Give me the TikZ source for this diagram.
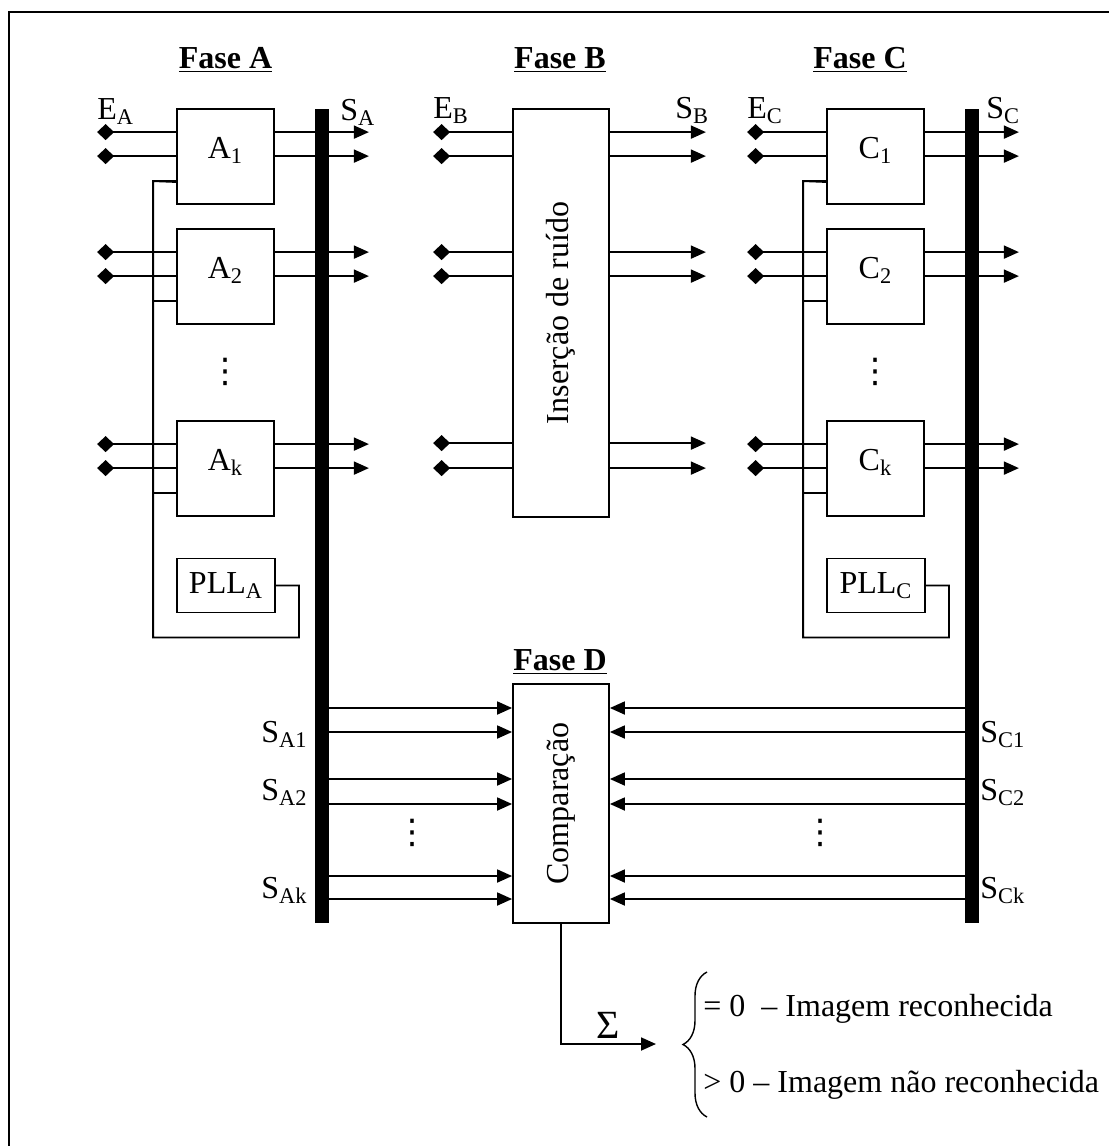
\documentclass[tikz,border=0pt]{standalone}
\usepackage{fontspec}
\setmainfont{Liberation Serif}
\newfontfamily\dvfont{DejaVu Sans}
\usepackage{tikz}
\usetikzlibrary{arrows.meta, positioning, decorations.pathreplacing, calc}
\tikzset{
  blk/.style={draw=black, line width=0.9pt, minimum width=48.5pt,
              minimum height=47.5pt, inner sep=0pt},
  pll/.style={draw=black, line width=0.9pt, minimum width=49pt,
              minimum height=27pt, inner sep=0pt, font=\fontsize{16}{19}\selectfont},
  tall/.style={draw=black, line width=0.9pt, minimum width=48pt, inner sep=0pt},
  bus/.style={fill=black, minimum width=7pt, minimum height=407pt, inner sep=0pt},
  lbl/.style={inner sep=0pt, font=\fontsize{16}{19}\selectfont},
  vdot/.style={inner sep=0pt, font=\dvfont\fontsize{17}{20}\selectfont},
  rot/.style={rotate=90, inner sep=0pt, font=\fontsize{16}{19}\selectfont},
  fase/.style={inner sep=0pt, font=\fontsize{16}{19}\selectfont\bfseries},
  res/.style={inner sep=0pt, font=\fontsize{16}{19}\selectfont},
  wire/.style={line width=0.9pt},
  inp/.style={wire, -{Diamond[length=8.5pt,width=8pt]}},
  outp/.style={wire, -{Triangle[length=7.5pt,width=6.5pt]}},
}
\begin{document}
\begin{tikzpicture}[x=0.5pt, y=-0.5pt]
    \useasboundingbox (0,0) rectangle (1109,1146);
    \draw[wire] (9,1146) -- (9,12) -- (1109,12);
    \foreach \n/\x/\t in {fA/225.5/A, fB/560/B, fC/860/C}{
      \node[fase, anchor=base] (\n) at (\x,68) {\underline{Fase \t}};
    }
    \node[fase, anchor=base] (fD) at (560,670) {\underline{Fase D}};
    \foreach \p/\x in {A/0,C/650}{
      \node[blk, label={[lbl,yshift=3pt]center:\p\textsubscript{1}}] (\p1) at (225.5+\x,156.5) {};
      \node[blk, label={[lbl,yshift=3pt]center:\p\textsubscript{2}}] (\p2) at (225.5+\x,276.5) {};
      \node[blk, label={[lbl,yshift=3pt]center:\p\textsubscript{k}}] (\p k) at (225.5+\x,468.5) {};
      \node[pll] (PLL\p) at (226+\x,585.5) {PLL\textsubscript{\p}};
      \node[vdot] (dots\p) at (225+\x,372) {⋮};
      \node[bus] (bus\p) at (322+\x,516) {};
      \draw[wire] (PLL\p.east) -- ++(23,0) -- ++(0,52)
        -| ([xshift=-11.5pt,yshift=-36.5pt]\p1.north west) -- (\p1.west |- 0,182);
    }
    \foreach \b in {A1,A2,Ak,C1,C2,Ck}{
      \foreach \d in {12,24}{
        \draw[inp] ([yshift=-\d pt]\b.north west) -- ++(-79,0);
        \draw[outp] ([yshift=-\d pt]\b.north east) -- ++(94,0);
      }
      \draw[wire] ([yshift=-36.5pt]\b.north west) -- ++(-23,0);
    }
    \node[tall, minimum height=204pt, label={[rot]center:Inserção de ruído}] (B) at (561,313) {};
    \foreach \d in {12,24,72,84,167.5,180}{
      \draw[inp] ([yshift=-\d pt]B.north west) -- ++(-79,0);
      \draw[outp] ([yshift=-\d pt]B.north east) -- ++(96,0);
    }
    \node[lbl, anchor=base west] (EA) at (97,119) {E\textsubscript{A}};
    \node[lbl, anchor=base west] (SA) at (340,120) {S\textsubscript{A}};
    \node[lbl, anchor=base west] (EB) at (433,118) {E\textsubscript{B}};
    \node[lbl, anchor=base west] (SB) at (675,118) {S\textsubscript{B}};
    \node[lbl, anchor=base west] (EC) at (747,118) {E\textsubscript{C}};
    \node[lbl, anchor=base west] (SC) at (986,118) {S\textsubscript{C}};
    \node[tall, minimum height=119.5pt, label={[rot]center:Comparação}] (Comp) at (561,803.5) {};
    \foreach \y in {708,732,779,804,876,899}{
      \draw[outp] (busA.east |- 0,\y) -- (Comp.west |- 0,\y);
      \draw[outp] (busC.west |- 0,\y) -- (Comp.east |- 0,\y);
    }
    \foreach \n/\s/\y in {1/1/742, 2/2/800, k/k/898}{
      \node[lbl, anchor=base east] (SA\n) at (308,\y) {S\textsubscript{A\s}};
      \node[lbl, anchor=base west] (SC\n) at (980,\y) {S\textsubscript{C\s}};
    }
    \node[vdot] (dotsDA) at (412,833) {⋮};
    \node[vdot] (dotsDC) at (820,833) {⋮};
    \coordinate (sumtip) at (656,1044);
    \draw[outp] (Comp.south) |- (sumtip);
    \node[inner sep=0pt, font=\fontsize{20}{24}\selectfont, anchor=base] (sigma) at (608,1038) {Σ};
    \draw[line width=0.7pt, decorate, decoration={brace, amplitude=12pt}] (707,1117) -- (707,972);
    \node[res, anchor=base west] (ok) at (703,1016) {= 0\ \ – Imagem reconhecida};
    \node[res, anchor=base west] (nok) at (703,1092) {> 0 – Imagem não reconhecida};
  \end{tikzpicture}
\end{document}
